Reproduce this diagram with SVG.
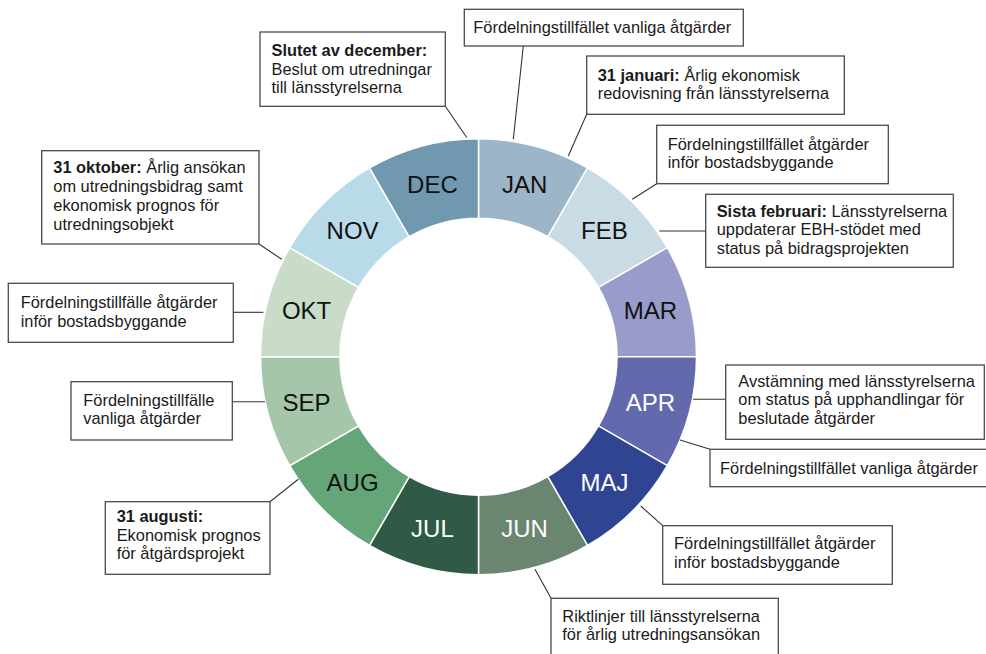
<svg xmlns="http://www.w3.org/2000/svg" width="986" height="654" viewBox="0 0 986 654">
<style>
.seg{stroke:#ffffff;stroke-width:1.5}
.m{font-family:"Liberation Sans",Arial,sans-serif;font-size:24px;text-anchor:middle}
.dk{fill:#111111}
.lt{fill:#ffffff}
.box{fill:#ffffff;stroke:#4a4a4a;stroke-width:1.3}
.t{font-family:"Liberation Sans",Arial,sans-serif;font-size:16.4px;fill:#1a1a1a}
.b{font-weight:bold}
.c{stroke:#333333;stroke-width:1.1;fill:none}
</style>
<rect width="986" height="654" fill="#ffffff"/>
<g id="ring">
<g id="jan"><path class="seg" fill="#9db5c8" d="M478.5,138.7 A218,218 0 0 1 587.5,167.91 L547.75,236.76 A138.5,138.5 0 0 0 478.5,218.2 Z"/><text class="m dk" x="524.6" y="193.3">JAN</text></g>
<g id="feb"><path class="seg" fill="#c9dbe4" d="M587.5,167.91 A218,218 0 0 1 667.29,247.7 L598.44,287.45 A138.5,138.5 0 0 0 547.75,236.76 Z"/><text class="m dk" x="604.4" y="239.3">FEB</text></g>
<g id="mar"><path class="seg" fill="#999ccb" d="M667.29,247.7 A218,218 0 0 1 696.5,356.7 L617,356.7 A138.5,138.5 0 0 0 598.44,287.45 Z"/><text class="m dk" x="650.4" y="319.1">MAR</text></g>
<g id="apr"><path class="seg" fill="#626aad" d="M696.5,356.7 A218,218 0 0 1 667.29,465.7 L598.44,425.95 A138.5,138.5 0 0 0 617,356.7 Z"/><text class="m lt" x="650.4" y="411.3">APR</text></g>
<g id="maj"><path class="seg" fill="#2f4592" d="M667.29,465.7 A218,218 0 0 1 587.5,545.49 L547.75,476.64 A138.5,138.5 0 0 0 598.44,425.95 Z"/><text class="m lt" x="604.4" y="491.1">MAJ</text></g>
<g id="jun"><path class="seg" fill="#6a8570" d="M587.5,545.49 A218,218 0 0 1 478.5,574.7 L478.5,495.2 A138.5,138.5 0 0 0 547.75,476.64 Z"/><text class="m lt" x="524.6" y="537.1">JUN</text></g>
<g id="jul"><path class="seg" fill="#2f5a45" d="M478.5,574.7 A218,218 0 0 1 369.5,545.49 L409.25,476.64 A138.5,138.5 0 0 0 478.5,495.2 Z"/><text class="m lt" x="432.4" y="537.1">JUL</text></g>
<g id="aug"><path class="seg" fill="#64a677" d="M369.5,545.49 A218,218 0 0 1 289.71,465.7 L358.56,425.95 A138.5,138.5 0 0 0 409.25,476.64 Z"/><text class="m dk" x="352.6" y="491.1">AUG</text></g>
<g id="sep"><path class="seg" fill="#a5c6a8" d="M289.71,465.7 A218,218 0 0 1 260.5,356.7 L340,356.7 A138.5,138.5 0 0 0 358.56,425.95 Z"/><text class="m dk" x="306.6" y="411.3">SEP</text></g>
<g id="okt"><path class="seg" fill="#c8dcc8" d="M260.5,356.7 A218,218 0 0 1 289.71,247.7 L358.56,287.45 A138.5,138.5 0 0 0 340,356.7 Z"/><text class="m dk" x="306.6" y="319.1">OKT</text></g>
<g id="nov"><path class="seg" fill="#b8dae9" d="M289.71,247.7 A218,218 0 0 1 369.5,167.91 L409.25,236.76 A138.5,138.5 0 0 0 358.56,287.45 Z"/><text class="m dk" x="352.6" y="239.3">NOV</text></g>
<g id="dec"><path class="seg" fill="#7099b0" d="M369.5,167.91 A218,218 0 0 1 478.5,138.7 L478.5,218.2 A138.5,138.5 0 0 0 409.25,236.76 Z"/><text class="m dk" x="432.4" y="193.3">DEC</text></g>
</g>
<g id="connectors">
<line class="c" x1="445.3" y1="106.3" x2="466.7" y2="137.5"/>
<line class="c" x1="523.3" y1="46" x2="513.3" y2="139.3"/>
<line class="c" x1="586.7" y1="114.3" x2="568.3" y2="156"/>
<line class="c" x1="656.7" y1="183.7" x2="632.3" y2="199.3"/>
<line class="c" x1="659.3" y1="231" x2="705.7" y2="231"/>
<line class="c" x1="693.3" y1="399.3" x2="725.7" y2="399.3"/>
<line class="c" x1="680" y1="440" x2="710" y2="449.3"/>
<line class="c" x1="640.7" y1="506" x2="662.7" y2="525.7"/>
<line class="c" x1="535" y1="569.3" x2="551" y2="598.3"/>
<line class="c" x1="270" y1="501.7" x2="298.3" y2="479.3"/>
<line class="c" x1="232.3" y1="401.7" x2="265" y2="401.7"/>
<line class="c" x1="233.3" y1="312.3" x2="263.3" y2="312.3"/>
<line class="c" x1="259" y1="244" x2="281.7" y2="259.3"/>
</g>
<g id="note-dec"><rect class="box" x="260" y="32" width="185.3" height="74.3"/>
<text class="t" x="271.5" y="56"><tspan class="b">Slutet av december:</tspan></text>
<text class="t" x="271.5" y="74.5">Beslut om utredningar</text>
<text class="t" x="271.5" y="93">till länsstyrelserna</text></g>
<g id="note-jan1"><rect class="box" x="464.3" y="9.3" width="279" height="36.7"/>
<text class="t" x="473.3" y="33.3">Fördelningstillfället vanliga åtgärder</text></g>
<g id="note-jan2"><rect class="box" x="586.7" y="56" width="257.6" height="58.3"/>
<text class="t" x="597.7" y="80.7"><tspan class="b">31 januari:</tspan> Årlig ekonomisk</text>
<text class="t" x="597.7" y="99">redovisning från länsstyrelserna</text></g>
<g id="note-feb1"><rect class="box" x="656.7" y="125.3" width="231.6" height="58.4"/>
<text class="t" x="667.7" y="150">Fördelningstillfället åtgärder</text>
<text class="t" x="667.7" y="168.3">inför bostadsbyggande</text></g>
<g id="note-feb2"><rect class="box" x="705.7" y="194.3" width="247.6" height="73"/>
<text class="t" x="716.7" y="216.7"><tspan class="b">Sista februari:</tspan> Länsstyrelserna</text>
<text class="t" x="716.7" y="235.3">uppdaterar EBH-stödet med</text>
<text class="t" x="716.7" y="254">status på bidragsprojekten</text></g>
<g id="note-apr1"><rect class="box" x="725.7" y="365" width="258.6" height="74.3"/>
<text class="t" x="738.3" y="386.7">Avstämning med länsstyrelserna</text>
<text class="t" x="738.3" y="405">om status på upphandlingar för</text>
<text class="t" x="738.3" y="424">beslutade åtgärder</text></g>
<g id="note-apr2"><rect class="box" x="710" y="449.3" width="290" height="37.4"/>
<text class="t" x="720" y="474">Fördelningstillfället vanliga åtgärder</text></g>
<g id="note-maj"><rect class="box" x="662.7" y="525.7" width="229.6" height="58.6"/>
<text class="t" x="674" y="549.3">Fördelningstillfället åtgärder</text>
<text class="t" x="674" y="567.7">inför bostadsbyggande</text></g>
<g id="note-jun"><rect class="box" x="551" y="598.3" width="227.3" height="70"/>
<text class="t" x="562.3" y="621.7">Riktlinjer till länsstyrelserna</text>
<text class="t" x="562.3" y="640">för årlig utredningsansökan</text></g>
<g id="note-aug"><rect class="box" x="105.3" y="501.7" width="164.7" height="72.6"/>
<text class="t" x="116.7" y="522.3"><tspan class="b">31 augusti:</tspan></text>
<text class="t" x="116.7" y="540.7">Ekonomisk prognos</text>
<text class="t" x="116.7" y="559.3">för åtgärdsprojekt</text></g>
<g id="note-sep"><rect class="box" x="71" y="381.7" width="161.3" height="58.3"/>
<text class="t" x="83.3" y="406">Fördelningstillfälle</text>
<text class="t" x="83.3" y="424.3">vanliga åtgärder</text></g>
<g id="note-okt1"><rect class="box" x="8.3" y="283.3" width="225" height="59"/>
<text class="t" x="20.7" y="308.3">Fördelningstillfälle åtgärder</text>
<text class="t" x="20.7" y="326.7">inför bostadsbyggande</text></g>
<g id="note-okt2"><rect class="box" x="41.7" y="150.7" width="217.3" height="93.3"/>
<text class="t" x="53.3" y="173.3"><tspan class="b">31 oktober:</tspan>  Årlig ansökan</text>
<text class="t" x="53.3" y="192.3">om utredningsbidrag samt</text>
<text class="t" x="53.3" y="211">ekonomisk prognos för</text>
<text class="t" x="53.3" y="230">utredningsobjekt</text></g>
</svg>
